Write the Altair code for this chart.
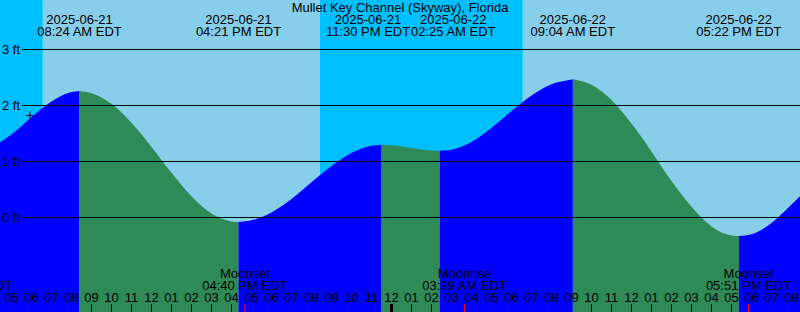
import altair as alt
import pandas as pd

station = "Mullet Key Channel (Skyway), Florida"

# Tide extremes
tide_dates = ["2025-06-21", "2025-06-21", "2025-06-21", "2025-06-22", "2025-06-22", "2025-06-22"]
tide_times = ["08:24 AM EDT", "04:21 PM EDT", "11:30 PM EDT", "02:25 AM EDT", "09:04 AM EDT", "05:22 PM EDT"]
tide_ft = [2.26, -0.08, 1.30, 1.19, 2.47, -0.33]

# Water level readings between extremes (hours since 2025-06-21 00:00 EDT, feet)
curve_hours = [4.425, 5, 6, 7, 8, 9, 10, 11, 12, 13, 14, 15, 16, 17, 18, 19, 20, 21, 22, 23,
               24, 25, 26, 27, 28, 29, 30, 31, 32, 33, 34, 35, 36, 37, 38, 39, 40, 41, 42, 43, 44, 44.425]
curve_ft = [1.345, 1.48, 1.79, 2.07, 2.24, 2.22, 2.03, 1.69, 1.26, 0.80, 0.38, 0.07, -0.07, -0.05, 0.09,
            0.33, 0.63, 0.92, 1.15, 1.28, 1.29, 1.24, 1.195, 1.21, 1.35, 1.60, 1.90, 2.18, 2.38, 2.465,
            2.37, 2.10, 1.68, 1.18, 0.65, 0.19, -0.16, -0.32, -0.30, -0.10, 0.23, 0.38]

# Sun events
sun_dates = ["2025-06-21", "2025-06-21", "2025-06-22"]
sun_times = ["06:34 AM EDT", "08:25 PM EDT", "06:34 AM EDT"]
sun_kind = ["Sunrise", "Sunset", "Sunrise"]

# Moon events
moon_dates = ["2025-06-21", "2025-06-21", "2025-06-22", "2025-06-22"]
moon_times = ["02:55 AM EDT", "04:40 PM EDT", "03:39 AM EDT", "05:51 PM EDT"]
moon_kind = ["Moonrise", "Moonset", "Moonrise", "Moonset"]

# Hour ticks
hour_ticks = list(range(5, 45))
hour_labels = ["05", "06", "07", "08", "09", "10", "11", "12", "01", "02", "03", "04",
               "05", "06", "07", "08", "09", "10", "11", "12", "01", "02", "03", "04",
               "05", "06", "07", "08", "09", "10", "11", "12", "01", "02", "03", "04",
               "05", "06", "07", "08"]

grid_ft = [0, 1, 2, 3]
grid_labels = ["0 ft", "1 ft", "2 ft", "3 ft"]

marker_hour = [5.925]
marker_ft = [1.82]

X_DOMAIN = [4.425, 44.425]
Y_DOMAIN = [-1.6875, 3.8839]
PX_PER_HOUR = 800 / (X_DOMAIN[1] - X_DOMAIN[0])
FONT = "Liberation Sans"
FS = 13
NIGHT = "#00BFFF"
DAY = "#87CEEB"
RISE = "#0000FF"
FALL = "#2E8B57"

# approximate glyph advances (Liberation Sans, 13px) for label collision handling
GLYPH_W = {":": 3.61, " ": 3.61, "-": 4.33, "A": 8.67, "P": 8.67, "M": 10.83,
           "E": 8.67, "D": 9.39, "T": 7.94}


def text_w(s):
    return sum(GLYPH_W.get(c, 7.23) for c in s)


def to_hours(date, time):
    hm, ampm, _ = time.split(" ")
    h, m = [int(v) for v in hm.split(":")]
    if ampm == "PM" and h != 12:
        h += 12
    if ampm == "AM" and h == 12:
        h = 0
    day = 24 if date == "2025-06-22" else 0
    return day + h + m / 60.0


xs = alt.Scale(domain=X_DOMAIN, range=[0, 800], nice=False, zero=False)
ys = alt.Scale(domain=Y_DOMAIN, range=[312, 0], nice=False, zero=False)

tide_hours = [to_hours(d, t) for d, t in zip(tide_dates, tide_times)]

# push overlapping top labels apart
label_hours = list(tide_hours)
for i in range(len(label_hours) - 1):
    need = (text_w(tide_times[i]) + text_w(tide_times[i + 1])) / 2 / PX_PER_HOUR
    gap = label_hours[i + 1] - label_hours[i]
    if gap < need:
        shift = (need - gap) / 2
        label_hours[i] -= shift
        label_hours[i + 1] += shift

tide_df = pd.DataFrame({"t": tide_hours, "lt": label_hours, "date": tide_dates,
                        "time": tide_times, "ft": tide_ft})

# Build water segments between extremes
pts = sorted(list(zip(curve_hours, curve_ft)) + list(zip(tide_hours, tide_ft)))
bounds = [X_DOMAIN[0]] + tide_hours + [X_DOMAIN[1]]
rows = []
for i in range(len(bounds) - 1):
    a, b = bounds[i], bounds[i + 1]
    seg = [(t, f) for t, f in pts if a - 1e-9 <= t <= b + 1e-9]
    rising = seg[-1][1] > seg[0][1]
    for t, f in seg:
        rows.append({"t": t, "ft": f, "seg": i, "fill": RISE if rising else FALL})
water_df = pd.DataFrame(rows)

# Sky intervals
sun_hours = [to_hours(d, t) for d, t in zip(sun_dates, sun_times)]
edges = [X_DOMAIN[0]] + sun_hours + [X_DOMAIN[1]]
sky_rows = []
for i in range(len(edges) - 1):
    is_day = (i % 2) == 1
    sky_rows.append({"start": edges[i], "end": edges[i + 1], "fill": DAY if is_day else NIGHT})
sky_df = pd.DataFrame(sky_rows)

moon_df = pd.DataFrame({"t": [to_hours(d, t) for d, t in zip(moon_dates, moon_times)],
                        "kind": moon_kind, "time": moon_times})
hour_df = pd.DataFrame({"t": hour_ticks, "label": hour_labels,
                        "midnight": [h % 24 == 0 for h in hour_ticks]})
grid_df = pd.DataFrame({"ft": grid_ft, "label": grid_labels})
marker_df = pd.DataFrame({"t": marker_hour, "ft": marker_ft})
title_df = pd.DataFrame({"label": [station]})

X = lambda f: alt.X(f, scale=xs, axis=None)
Y = lambda f: alt.Y(f, scale=ys, axis=None)

sky = alt.Chart(sky_df).mark_rect().encode(
    x=X("start:Q"), x2="end:Q", y=alt.value(0), y2=alt.value(312),
    color=alt.Color("fill:N", scale=None))

water = alt.Chart(water_df).mark_area(interpolate="monotone").encode(
    x=X("t:Q"), y=alt.Y("ft:Q", scale=ys, axis=None, stack=None), y2=alt.value(312),
    color=alt.Color("fill:N", scale=None), detail="seg:N")

grid = alt.Chart(grid_df).mark_rule(color="black", strokeWidth=1).encode(
    y=Y("ft:Q"), x=alt.value(22), x2=alt.value(800))

grid_text = alt.Chart(grid_df).mark_text(font=FONT, fontSize=FS, align="left",
                                         baseline="alphabetic", dy=4.5, color="black").encode(
    y=Y("ft:Q"), x=alt.value(2), text="label:N")

title = alt.Chart(title_df).mark_text(font=FONT, fontSize=FS, align="center",
                                      baseline="alphabetic", color="black").encode(
    x=alt.value(400), y=alt.value(12), text="label:N")

tide_date_text = alt.Chart(tide_df).mark_text(font=FONT, fontSize=FS, align="center",
                                              baseline="alphabetic", color="black").encode(
    x=X("lt:Q"), y=alt.value(24), text="date:N")
tide_time_text = alt.Chart(tide_df).mark_text(font=FONT, fontSize=FS, align="center",
                                              baseline="alphabetic", color="black").encode(
    x=X("lt:Q"), y=alt.value(36), text="time:N")

moon_kind_text = alt.Chart(moon_df).mark_text(font=FONT, fontSize=FS, align="center",
                                              baseline="alphabetic", color="black").encode(
    x=X("t:Q"), y=alt.value(278), text="kind:N")
moon_time_text = alt.Chart(moon_df).mark_text(font=FONT, fontSize=FS, align="center",
                                              baseline="alphabetic", color="black").encode(
    x=X("t:Q"), y=alt.value(290), text="time:N")

hour_text = alt.Chart(hour_df).mark_text(font=FONT, fontSize=FS, align="center",
                                         baseline="alphabetic", color="black").encode(
    x=X("t:Q"), y=alt.value(302), text="label:N")

hour_rule = alt.Chart(hour_df).transform_filter("!datum.midnight").mark_rule(
    color="black", strokeWidth=1).encode(x=X("t:Q"), y=alt.value(304), y2=alt.value(312))
midnight_rule = alt.Chart(hour_df).transform_filter("datum.midnight").mark_rule(
    color="black", strokeWidth=3).encode(x=X("t:Q"), y=alt.value(304), y2=alt.value(312))
moon_rule = alt.Chart(moon_df).mark_rule(color="#FF0000", strokeWidth=1).encode(
    x=X("t:Q"), y=alt.value(304), y2=alt.value(312))

marker = alt.Chart(marker_df).mark_point(shape="M-1,0H1M0,-1V1", size=64, filled=False,
                                         stroke="black", strokeWidth=1, opacity=1).encode(
    x=X("t:Q"), y=Y("ft:Q"))

chart = alt.layer(
    sky, water, grid, grid_text, title, tide_date_text, tide_time_text,
    moon_kind_text, moon_time_text, hour_text, hour_rule, midnight_rule, moon_rule, marker
).properties(
    width=800, height=312, padding=0,
    autosize=alt.AutoSizeParams(type="none")
).configure_view(strokeWidth=0)

chart.save("out.html", embed_options={"renderer": "svg", "actions": False})
